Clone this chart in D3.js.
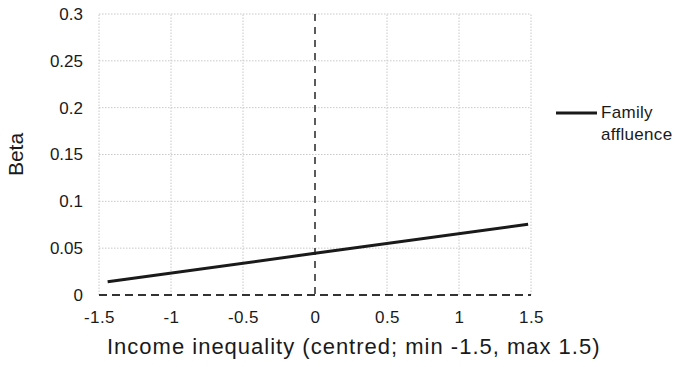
<!DOCTYPE html>
<html>
<head>
<meta charset="utf-8">
<script src="https://cdn.jsdelivr.net/npm/d3@7"></script>
<style>
body { margin: 0; background: #fff; }
text { font-family: "Liberation Sans", Arial, sans-serif; fill: #1a1a1a; }
</style>
</head>
<body>
<svg></svg>
<script>
let width = 677
let height = 367

// income inequality (centred) and predicted beta
let inequality = [-1.44, 0, 1.48]
let beta = [0.0142, 0.0445, 0.0755]
let xTicks = [-1.5, -1, -0.5, 0, 0.5, 1, 1.5]
let yTicks = [0, 0.05, 0.1, 0.15, 0.2, 0.25, 0.3]
let seriesName = ['Family', 'affluence']

let margin = { left: 99, right: 146, top: 14, bottom: 72 }

let svg = d3.select('svg')
    .attr('width', width)
    .attr('height', height)

let x = d3.scaleLinear()
    .domain([-1.5, 1.5])
    .range([margin.left, width - margin.right])
let y = d3.scaleLinear()
    .domain([0, 0.3])
    .range([height - margin.bottom, margin.top])

// grid
let grid = svg.append('g')
    .attr('stroke', '#c8c8c8')
    .attr('stroke-width', 1)
    .attr('stroke-dasharray', '1.5,1.5')
grid.selectAll('.vgrid')
    .data(xTicks.filter(d => d !== 0)).enter()
    .append('line')
    .attr('x1', d => x(d)).attr('x2', d => x(d))
    .attr('y1', y(0)).attr('y2', y(0.3))
grid.selectAll('.hgrid')
    .data(yTicks.filter(d => d !== 0)).enter()
    .append('line')
    .attr('x1', x(-1.5)).attr('x2', x(1.5))
    .attr('y1', d => y(d)).attr('y2', d => y(d))

// reference dashed lines
svg.append('line')
    .attr('x1', x(0)).attr('x2', x(0))
    .attr('y1', y(0.3)).attr('y2', y(0))
    .attr('stroke', '#333')
    .attr('stroke-width', 1.6)
    .attr('stroke-dasharray', '7,6')
svg.append('line')
    .attr('x1', x(-1.5)).attr('x2', x(1.5))
    .attr('y1', y(0)).attr('y2', y(0))
    .attr('stroke', '#333')
    .attr('stroke-width', 1.8)
    .attr('stroke-dasharray', '8,5')

// axes labels
let xAxis = d3.axisBottom(x).tickValues(xTicks).tickSize(0).tickPadding(16)
    .tickFormat(d => String(d))
svg.append('g')
    .attr('transform', `translate(0,${y(0)})`)
    .call(xAxis)
    .call(g => g.select('.domain').remove())
    .selectAll('text')
    .style('font-size', '17px')
    .style('letter-spacing', '0.4px')
    .attr('fill', '#1a1a1a')

let yAxis = d3.axisLeft(y).tickValues(yTicks).tickSize(0).tickPadding(16)
    .tickFormat(d => String(d))
svg.append('g')
    .attr('transform', `translate(${x(-1.5)},0)`)
    .call(yAxis)
    .call(g => g.select('.domain').remove())
    .selectAll('text')
    .style('font-size', '17px')
    .attr('fill', '#1a1a1a')

svg.selectAll('.tick text').style('font-family', '"Liberation Sans", Arial, sans-serif')

// series
let line = d3.line()
    .x(d => x(d[0]))
    .y(d => y(d[1]))
svg.append('path')
    .datum(inequality.map((v, i) => [v, beta[i]]))
    .attr('fill', 'none')
    .attr('stroke', '#1a1a1a')
    .attr('stroke-width', 3)
    .attr('d', line)

// titles
svg.append('text')
    .attr('x', 107)
    .attr('y', 354)
    .style('font-size', '22px')
    .style('letter-spacing', '1px')
    .text('Income inequality (centred; min -1.5, max 1.5)')
svg.append('text')
    .attr('transform', `translate(23,${(y(0) + y(0.3)) / 2}) rotate(-90)`)
    .attr('text-anchor', 'middle')
    .style('font-size', '21px')
    .text('Beta')

// legend
let legend = svg.append('g')
legend.append('line')
    .attr('x1', 556).attr('x2', 597)
    .attr('y1', 113).attr('y2', 113)
    .attr('stroke', '#1a1a1a')
    .attr('stroke-width', 3)
legend.append('text')
    .attr('x', 601)
    .attr('y', 118)
    .style('font-size', '17px')
    .style('letter-spacing', '0.3px')
    .selectAll('tspan')
    .data(seriesName).enter()
    .append('tspan')
    .attr('x', 601)
    .attr('dy', (d, i) => i === 0 ? 0 : 21.5)
    .text(d => d)
</script>
</body>
</html>
